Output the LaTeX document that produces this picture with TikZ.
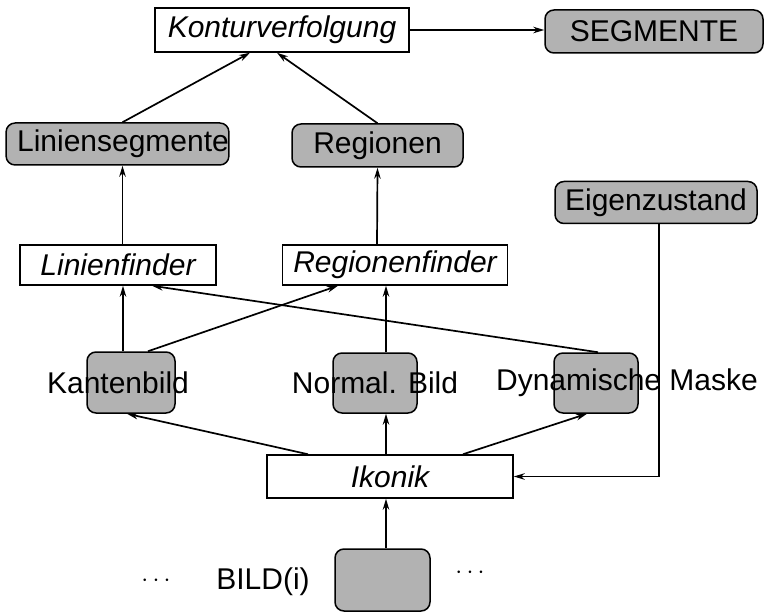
\documentclass[tikz,border=0pt]{standalone}
\usepackage{fontspec}
\setmainfont{Liberation Sans}
\usetikzlibrary{arrows.meta}
\begin{document}
\begin{tikzpicture}[x=1pt,y=-1pt,
  every node/.style={font=\fontsize{30}{34}\selectfont, inner sep=0pt},
  proc/.style={draw, line width=1.5pt, fill=white, font=\fontsize{30}{34}\selectfont\itshape},
  data/.style={draw, line width=1.5pt, rounded corners=9pt, fill=black!30},
  arr/.style={line width=1.7pt, -{Stealth[length=11pt,width=6.5pt]}},
]
\useasboundingbox (0,0) rectangle (765,612);

% top level
\node[proc, minimum width=254pt, minimum height=44pt] (kont) at (282,30) {Konturverfolgung};
\node[data, minimum width=218pt, minimum height=43pt] (seg) at (654,31.5) {SEGMENTE};

% segment results
\node[data, minimum width=209pt, minimum height=42pt] (linseg) at (117.5,144) {\hspace*{11pt}Liniensegmente};
\node[data, minimum width=171pt, minimum height=43pt] (reg) at (377.5,145.5) {Regionen};
\node[data, minimum width=202pt, minimum height=42pt] (eigen) at (656,202.5) {Eigenzustand};

% finders
\node[proc, minimum width=196pt, minimum height=40pt] (linf) at (118,265) {Linienfinder};
\node[proc, minimum width=225pt, minimum height=40pt] (regf) at (395,265) {Regionenfinder};

% iconic images
\node[data, minimum width=88pt, minimum height=61pt] (kant) at (131,382.5) {};
\node (kantl) at (118,383) {Kantenbild};
\node[data, minimum width=84pt, minimum height=60pt] (norm) at (375,383) {};
\node (norml) at (375,383) {Normal. Bild};
\node[data, minimum width=84pt, minimum height=60pt] (dyn) at (596,383) {};
\node (dynl) at (627,383) {Dynamische Maske};

% iconic processing and input image
\node[proc, minimum width=246pt, minimum height=43pt] (ikon) at (390,476.5) {Ikonik};
\node[data, minimum width=95pt, minimum height=62pt] (bild) at (382.5,580) {};
\node (bildl) at (263,582) {BILD(i)};
\node (dotsl) at (156,581) {$\cdots$};
\node (dotsr) at (470,573) {$\cdots$};

% connections
\draw[arr] (kont.east) -- (kont.east -| seg.west);
\draw[arr] ([xshift=5pt]linseg.north) -- ([xshift=-32pt]kont.south);
\draw[arr] (reg.north) -- ([xshift=-5pt]kont.south);
\draw[arr] ([xshift=4.5pt]linf.north) -- ([xshift=4.5pt]linf.north |- linseg.south);
\draw[arr] ([xshift=-18pt]regf.north) -- (reg.south);
\draw[arr] ([xshift=-8pt]kant.north) -- ([xshift=5pt]linf.south);
\draw[arr] ([xshift=17pt]kant.north) -- ([xshift=-57pt]regf.south);
\draw[arr] ([xshift=11pt]norm.north) -- ([xshift=-9pt]regf.south);
\draw[arr] ([xshift=2pt]dyn.north) -- ([xshift=34pt]linf.south);
\draw[arr] ([xshift=-82pt]ikon.north) -- ([xshift=-4pt]kant.south);
\draw[arr] ([xshift=-4pt]ikon.north) -- ([xshift=11pt]norm.south);
\draw[arr] ([xshift=73pt]ikon.north) -- ([xshift=-9pt]dyn.south);
\draw[arr] ([xshift=3.5pt]bild.north) -- ([xshift=-4pt]ikon.south);
\draw[arr] ([xshift=3pt]eigen.south) |- (ikon.east);
\end{tikzpicture}
\end{document}
